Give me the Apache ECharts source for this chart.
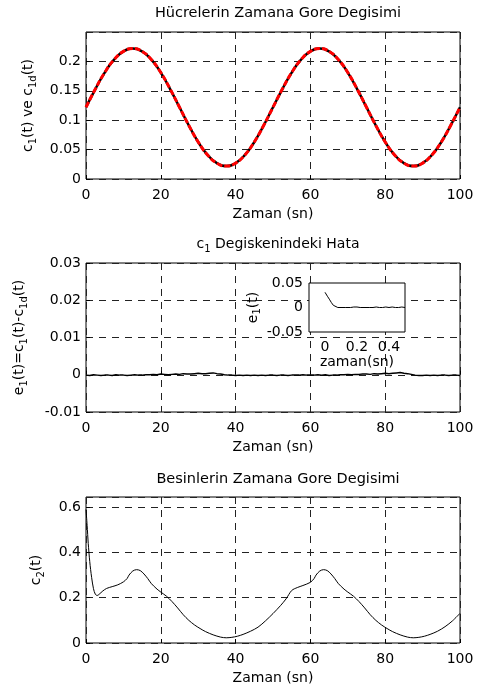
<!DOCTYPE html>
<html><head><meta charset="utf-8">
<script src="https://cdn.jsdelivr.net/npm/echarts@6/dist/echarts.min.js"></script>
<style>html,body{margin:0;padding:0;background:#fff}#c{width:477px;height:693px}</style>
</head><body><div id="c"></div>
<script>
// ---------- data ----------
const xTicks = [0, 20, 40, 60, 80, 100];
const titles = ['Hücrelerin Zamana Gore Degisimi', 'c1 Degiskenindeki Hata', 'Besinlerin Zamana Gore Degisimi'];

// plot 1: c1(t) and c1d(t)
const time1 = [0,2.5,5,7.5,10,12.5,15,17.5,20,22.5,25,27.5,30,32.5,35,37.5,40,42.5,45,47.5,
  50,52.5,55,57.5,60,62.5,65,67.5,70,72.5,75,77.5,80,82.5,85,87.5,90,92.5,95,97.5,100];
const c1 = [0.122,0.153,0.181,0.203,0.217,0.222,0.217,0.203,0.181,0.153,0.122,0.091,0.063,0.041,0.027,0.022,0.027,0.041,0.063,0.091,
  0.122,0.153,0.181,0.203,0.217,0.222,0.217,0.203,0.181,0.153,0.122,0.091,0.063,0.041,0.027,0.022,0.027,0.041,0.063,0.091,0.122];
const c1d = [0.122,0.153,0.181,0.203,0.217,0.222,0.217,0.203,0.181,0.153,0.122,0.091,0.063,0.041,0.027,0.022,0.027,0.041,0.063,0.091,
  0.122,0.153,0.181,0.203,0.217,0.222,0.217,0.203,0.181,0.153,0.122,0.091,0.063,0.041,0.027,0.022,0.027,0.041,0.063,0.091,0.122];

// plot 2: error e1(t), one reading per second (0..100 s)
const e1 = [-0.0001,-0.0002,0,-0.0001,-0.0002,-0.0001,-0.0001,-0.0002,0,-0.0001,-0.0001,
  -0.0002,-0.0001,0,-0.0001,-0.0001,0,0,0.0001,0,0.0002,
  0.0001,0,0.0001,0.0002,0.0001,0.0003,0.0002,0.0002,0.0003,0.0004,
  0.0003,0.0003,0.0004,0.0005,0.0003,0.0002,0,-0.0001,-0.0001,-0.0002,
  -0.0001,-0.0002,-0.0001,-0.0002,-0.0001,-0.0002,-0.0001,-0.0002,-0.0001,-0.0001,
  -0.0002,-0.0001,-0.0001,-0.0002,-0.0001,-0.0001,-0.0001,0,-0.0001,-0.0001,
  -0.0001,0,-0.0001,0,-0.0002,-0.0001,-0.0001,0,0,0.0001,
  0,0.0001,0.0001,0.0002,0.0002,0.0001,0.0003,0.0002,0.0003,0.0004,
  0.0003,0.0004,0.0005,0.0006,0.0004,0.0003,0.0001,-0.0001,-0.0002,-0.0002,
  -0.0001,-0.0002,-0.0001,-0.0002,-0.0001,-0.0001,-0.0002,-0.0001,-0.0001,-0.0002];
const timeE = e1.map((_, i) => i);

// inset: first 0.5 s of e1(t)
const timeIn = [0,0.015,0.027,0.04,0.052,0.063,0.08,0.1,0.13,0.16,0.18,0.2,0.22,0.25,0.28,0.3,0.32,0.34,0.36,0.38,0.4,0.42,0.44,0.46,0.48,0.5];
const e1In  = [0.031,0.023,0.017,0.010,0.0045,0.001,0,0,0,0,0.001,0.001,0,0,0,0,0.001,0,0,0.001,0,0.001,0,0,0.001,0];

// plot 3: c2(t)
const time2 = [0,0.3,0.6,1,1.5,2,2.5,3,3.5,4.5,5.5,7,8.5,10,11,11.5,12.5,13.5,14.5,15.5,16.5,17.5,19,20,21.5,23,24.5,26,27.5,29,30.5,32,34,36,37.5,39,40.5,42,44,46,48,
  50,52,53.5,55,56.5,58,60,61,61.5,62.5,63.5,64.5,65.5,66.5,67.5,69,70,71.5,73,74.5,76,77.5,79,80.5,82,84,86,87.5,89,90.5,92,94,96,98,100];
const c2 = [0.59,0.52,0.44,0.36,0.29,0.24,0.215,0.21,0.215,0.23,0.241,0.249,0.257,0.27,0.285,0.3,0.318,0.324,0.32,0.305,0.285,0.262,0.238,0.225,0.207,0.183,0.155,0.125,0.1,0.08,0.064,0.05,0.036,0.026,0.023,0.025,0.03,0.038,0.052,0.07,0.098,
  0.13,0.165,0.195,0.232,0.245,0.254,0.268,0.285,0.3,0.318,0.324,0.32,0.305,0.285,0.262,0.238,0.225,0.207,0.183,0.155,0.125,0.1,0.08,0.064,0.05,0.036,0.026,0.023,0.025,0.03,0.038,0.052,0.072,0.098,0.131];

// ---------- chart ----------
const F = "'DejaVu Sans', sans-serif";
const pair = (xs, ys) => xs.map((x, i) => [x, ys[i]]);
const rich = {
  n: { fontSize: 14, lineHeight: 20, fontFamily: F, color: '#000', fontWeight: 'normal' },
  s: { fontSize: 10, lineHeight: 8, verticalAlign: 'bottom', fontFamily: F, color: '#000', fontWeight: 'normal' }
};
const gridLine = { show: true, lineStyle: { type: [7, 6], color: '#222', width: 1 } };
const lbl = { fontSize: 14, color: '#000', fontFamily: F };

function xAx(g) {
  return { type: 'value', gridIndex: g, min: xTicks[0], max: xTicks[xTicks.length - 1], interval: xTicks[1] - xTicks[0],
    axisLine: { show: false }, axisTick: { inside: true, length: 4, lineStyle: { color: '#000' } },
    axisLabel: Object.assign({ margin: 9 }, lbl), splitLine: gridLine,
    name: 'Zaman (sn)', nameLocation: 'middle', nameGap: 28, nameTextStyle: lbl };
}
function yAx(g, min, max, interval, name, gap) {
  return { type: 'value', gridIndex: g, min, max, interval,
    axisLine: { show: false }, axisTick: { inside: true, length: 4, lineStyle: { color: '#000' } },
    axisLabel: Object.assign({ margin: 5, showMaxLabel: max === 0.03 }, lbl), splitLine: gridLine,
    name, nameLocation: 'middle', nameRotate: 90, nameGap: gap, nameTextStyle: { rich } };
}
const gridBase = { show: true, borderColor: '#000', borderWidth: 1, backgroundColor: 'transparent' };

const option = {
  animation: false,
  backgroundColor: '#fff',
  title: [
    { text: titles[0], left: 273, top: 1, textAlign: 'center', textStyle: { fontSize: 14.5, fontWeight: 'normal', color: '#000', fontFamily: F } },
    { text: '{n|c}{s|1}{n| Degiskenindeki Hata}', left: 273, top: 229, textAlign: 'center', textStyle: { fontWeight: 'normal', rich } },
    { text: titles[2], left: 273, top: 467, textAlign: 'center', textStyle: { fontSize: 14.5, fontWeight: 'normal', color: '#000', fontFamily: F } }
  ],
  grid: [
    Object.assign({ left: 86, top: 32, width: 374, height: 147 }, gridBase),
    Object.assign({ left: 86, top: 263, width: 374, height: 149 }, gridBase),
    Object.assign({ left: 86, top: 497, width: 374, height: 146 }, gridBase),
    { show: true, left: 309, top: 283, width: 96, height: 49, borderColor: '#000', borderWidth: 1, backgroundColor: '#fff', z: 5 }
  ],
  xAxis: [
    xAx(0), xAx(1), xAx(2),
    { type: 'value', gridIndex: 3, min: -0.1, max: 0.5, interval: 0.1, z: 6,
      axisLine: { show: false }, axisTick: { show: false }, splitLine: { show: false },
      axisLabel: Object.assign({ margin: 8, showMinLabel: false, showMaxLabel: false,
        formatter: v => (Math.abs(Math.round(v * 10)) % 2 === 0 ? String(Math.round(v * 10) / 10) : '') }, lbl),
      name: 'zaman(sn)', nameLocation: 'middle', nameGap: 15, nameTextStyle: lbl }
  ],
  yAxis: [
    yAx(0, 0, 0.25, 0.05, '{n|c}{s|1}{n|(t) ve c}{s|1d}{n|(t)}', 48),
    yAx(1, -0.01, 0.03, 0.01, '{n|e}{s|1}{n|(t)=c}{s|1}{n|(t)-c}{s|1d}{n|(t)}', 57),
    yAx(2, 0, 0.645, 0.2, '{n|c}{s|2}{n|(t)}', 40),
    { type: 'value', gridIndex: 3, min: -0.05, max: 0.05, interval: 0.05, z: 6,
      axisLine: { show: false }, axisTick: { show: false }, splitLine: { show: false },
      axisLabel: Object.assign({ margin: 6 }, lbl),
      name: '{n|e}{s|1}{n|(t)}', nameLocation: 'middle', nameRotate: 90, nameGap: 32, nameTextStyle: { rich } }
  ],
  series: [
    { type: 'line', xAxisIndex: 0, yAxisIndex: 0, data: pair(time1, c1), smooth: true, showSymbol: false,
      lineStyle: { color: '#000', width: 2.5 }, z: 2 },
    { type: 'line', xAxisIndex: 0, yAxisIndex: 0, data: pair(time1, c1d), smooth: true, showSymbol: false,
      lineStyle: { color: '#f00', width: 3, type: [6, 2] }, z: 3 },
    { type: 'line', xAxisIndex: 1, yAxisIndex: 1, data: pair(timeE, e1), showSymbol: false,
      lineStyle: { color: '#000', width: 1.5 }, z: 2 },
    { type: 'line', xAxisIndex: 3, yAxisIndex: 3, data: pair(timeIn, e1In), showSymbol: false,
      lineStyle: { color: '#000', width: 1 }, z: 7 },
    { type: 'line', xAxisIndex: 2, yAxisIndex: 2, data: pair(time2, c2), smooth: 0.3, showSymbol: false,
      lineStyle: { color: '#000', width: 1 }, z: 2 }
  ]
};
const chart = echarts.init(document.getElementById('c'), null, { renderer: 'canvas' });
chart.setOption(option);
</script>
</body></html>
